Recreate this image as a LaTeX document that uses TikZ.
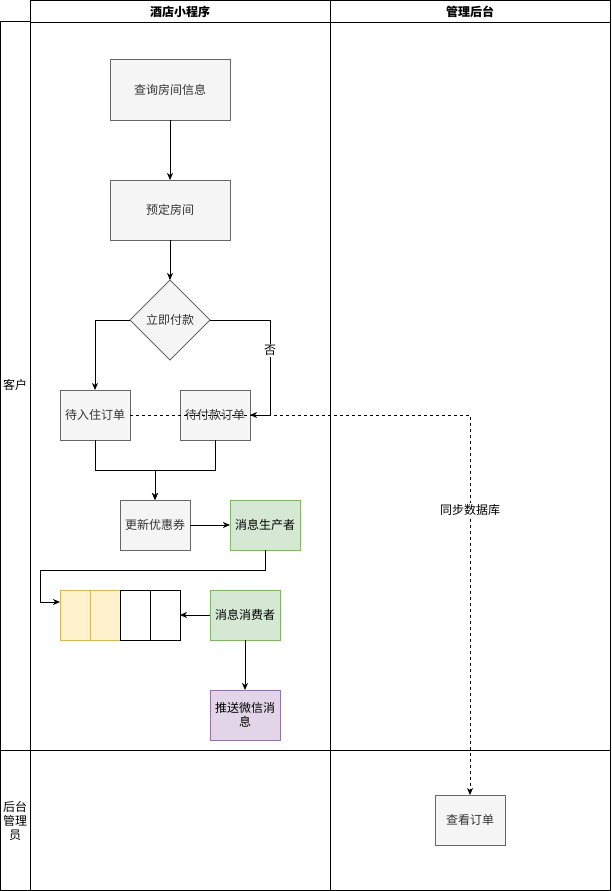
\documentclass[tikz,border=0pt]{standalone}
\usepackage{fontspec}
\setmainfont{Noto Sans CJK SC}
\usepackage{xcolor}
\usetikzlibrary{positioning,arrows.meta,shapes.geometric}
\definecolor{grayf}{HTML}{F5F5F5}
\definecolor{grayd}{HTML}{666666}
\definecolor{grayt}{HTML}{333333}
\definecolor{greenf}{HTML}{D5E8D4}
\definecolor{greend}{HTML}{82B366}
\definecolor{violetf}{HTML}{E1D5E7}
\definecolor{violetd}{HTML}{9673A6}
\definecolor{yellowf}{HTML}{FFF2CC}
\definecolor{yellowd}{HTML}{D6B656}

\begin{document}
\begin{tikzpicture}[x=1pt,y=-1pt,
  every node/.style={align=center,font=\fontsize{12}{14}\selectfont,inner sep=1pt},%
  bx/.style={minimum width=70pt,minimum height=50pt,line width=1pt,outer sep=0pt},%
  big/.style={minimum width=120pt,minimum height=60pt},%
  e/.style={-{Stealth[length=7pt,width=6pt,inset=2pt]},line width=1pt},%
  d/.style={e,dash pattern=on 3pt off 3pt},%
  lane/.style={draw,line width=1pt},%
  gr/.style={bx,fill=grayf,draw=grayd,text=grayt},%
  g/.style={bx,fill=greenf,draw=greend},%
  v/.style={bx,fill=violetf,draw=violetd},%
  cell/.style={minimum width=30pt,minimum height=50pt,line width=1pt,outer sep=0pt},%
  ye/.style={cell,fill=yellowf,draw=yellowd},%
  wh/.style={cell,fill=white,draw=black},%
  lb/.style={fill=white,inner sep=1pt},%
  ]
  \useasboundingbox (0,0) rectangle (611,891);

  % swimlanes
  \draw [lane] (30,1) rectangle (330,23);
  \draw [lane] (330,1) rectangle (610,23);
  \draw [lane] (0,22) rectangle (30,750);
  \draw [lane] (0,750) rectangle (30,890);
  \draw [lane] (30,23) rectangle (330,750);
  \draw [lane] (330,23) rectangle (610,750);
  \draw [lane] (30,750) rectangle (330,890);
  \draw [lane] (330,750) rectangle (610,890);
  \node (app) at (180,12) {\bfseries 酒店小程序};
  \node (admin) at (470,12) {\bfseries 管理后台};
  \node (kehu) at (15,385) {客户};
  \node (gly) at (15,821) {后台\\管理\\员};

  \node (cx) [gr,big] at (170,90) {查询房间信息};
  \node (yd) [gr,big,below=60pt of cx] {预定房间};
  \node (lj) [diamond,below=40pt of yd,minimum size=80pt,inner sep=0pt,outer sep=0pt,
    fill=grayf,draw=grayd,text=grayt,line width=1pt] {立即付款};
  \node (dr) [gr] at (95,415) {待入住订单};
  \node (dk) [gr] at (215,415) {待付款订单};
  \node (yh) [gr] at (155,525) {更新优惠券};
  \node (sc) [g,right=40pt of yh] {消息生产者};
  \node (q1) [ye] at (75,615) {};
  \node (q2) [ye,right=0pt of q1] {};
  \node (q3) [wh,right=0pt of q2] {};
  \node (q4) [wh,right=0pt of q3] {};
  \node (xf) [g] at (245,615) {消息消费者};
  \node (ts) [v,below=50pt of xf] {推送微信消\\息};
  \node (ck) [gr] at (470,820) {查看订单};

  \draw [e] (cx) -- (yd);
  \draw [e] (yd) -- (lj);
  \draw [e] (lj.west) -| (dr.north);
  \draw [e] (lj.east) -- ++(60,0) |- (dk.east) node [lb,pos=0.16] {否};
  \draw [d] (dr.east) -| (ck.north) node [lb,pos=0.625] {同步数据库};
  \draw [e] (dr.south) -- ++(0,30) -| (yh.north);
  \draw [e] (dk.south) -- ++(0,30) -| (yh.north);
  \draw [e] (yh) -- (sc);
  \draw [e] (sc.south) -- ++(0,20) -- ++(-225,0) |- ([yshift=13pt]q1.west);
  \draw [e] (xf.west) -- (q4.east);
  \draw [e] (xf) -- (ts);
\end{tikzpicture}
\end{document}
